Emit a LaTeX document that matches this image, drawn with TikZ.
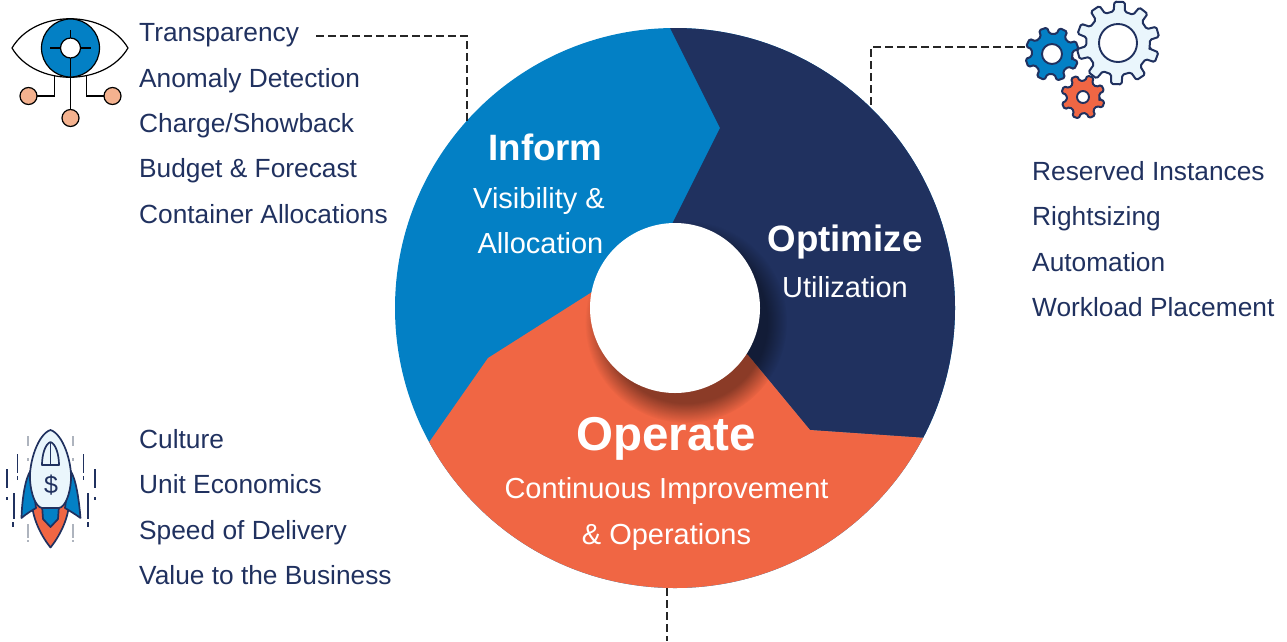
\documentclass[tikz,border=0pt]{standalone}
\usepackage{fontspec}
\setmainfont{Liberation Sans}
\usetikzlibrary{fadings}
\definecolor{brandblue}{HTML}{0380C5}
\definecolor{brandnavy}{HTML}{20315F}
\definecolor{brandorange}{HTML}{F06644}
\definecolor{peach}{HTML}{F4B28F}
\definecolor{palefill}{HTML}{EAF6FC}
\definecolor{dashgray}{HTML}{AEB4BE}
\newcommand{\fsize}[1]{\fontsize{#1}{#1}\selectfont}
\newcommand{\gearshape}[9]{%
 % cx cy router rinner teeth rot hole fill holefill
 \draw[gearline,fill=#8] ({#1+#4*cos(#6)},{#2+#4*sin(#6)})
 \foreach \gi in {1,...,#5}{
   -- ({#1+#4*cos(#6+(\gi-1+.06)*360/#5)},{#2+#4*sin(#6+(\gi-1+.06)*360/#5)})
   -- ({#1+#3*cos(#6+(\gi-1+.14)*360/#5)},{#2+#3*sin(#6+(\gi-1+.14)*360/#5)})
   -- ({#1+#3*cos(#6+(\gi-1+.54)*360/#5)},{#2+#3*sin(#6+(\gi-1+.54)*360/#5)})
   -- ({#1+#4*cos(#6+(\gi-1+.62)*360/#5)},{#2+#4*sin(#6+(\gi-1+.62)*360/#5)})
 } -- cycle;
 \draw[brandnavy,line width=1.9pt,fill=#9] (#1,#2) circle[radius=#7pt];
}
\tikzset{
  x=1pt,y=-1pt,
  item/.style={anchor=base west,inner sep=0pt,text=brandnavy,font=\fsize{26.3}},
  disctitle/.style={anchor=base,inner sep=0pt,text=white,font=\fsize{36.7}\bfseries},
  discsub/.style={anchor=base,inner sep=0pt,text=white,font=\fsize{29}},
  leader/.style={draw=black!85,line width=1.1pt,dash pattern=on 8pt off 4pt},
  gearline/.style={draw=brandnavy,line width=2pt,rounded corners=1.6pt,line join=round},
  eyeline/.style={draw=black,line width=1.2pt},
  rocketline/.style={draw=brandnavy,line width=1.7pt,line join=round},
  tick/.style={draw=brandnavy,line width=2pt},
  graytick/.style={draw=dashgray,line width=1.4pt},
}
\begin{document}
\begin{tikzpicture}
\useasboundingbox (0,0) rectangle (1287,641);
% disc
\begin{scope}
  \clip (675,308) circle[radius=280pt];
  \fill[brandblue] (390,20) rectangle (960,600);
  \fill[brandnavy] (655,-2) -- (720,128) -- (672,224) -- (675,308) -- (748,355) -- (810,430) -- (1000,443) -- (1000,-2) -- cycle;
  \fill[brandorange] (395,491) -- (488,358) -- (592,292) -- (675,308) -- (748,355) -- (810,430) -- (1000,443) -- (1000,620) -- (395,620) -- cycle;
  \fill[black,opacity=.42,path fading=circle with fuzzy edge 20 percent] (686,322) circle[radius=101pt];
\end{scope}
\node[circle,fill=white,minimum size=170pt,inner sep=0pt] (hub) at (675,308) {};
% disc labels
\node[disctitle] (inform) at (545.5,160) {Inform};
\node[discsub] (vis) at (539,208) {Visibility \&};
\node[discsub] (alloc) at (540.5,253) {Allocation};
\node[disctitle] (optimize) at (845,251) {Optimize};
\node[discsub] (util) at (845,297) {Utilization};
\node[disctitle,font=\fsize{47.5}\bfseries] (operate) at (666,450) {Operate};
\node[discsub] (cont) at (666.5,498) {Continuous Improvement};
\node[discsub] (ops) at (666.5,544) {\& Operations};
% lists
\node[item] (t1) at (139,41) {Transparency};
\node[item] (t2) at (139,87) {Anomaly Detection};
\node[item] (t3) at (139,132) {Charge/Showback};
\node[item] (t4) at (139,177) {Budget \& Forecast};
\node[item] (t5) at (139,223) {Container Allocations};
\node[item] (r1) at (1032,180) {Reserved Instances};
\node[item] (r2) at (1032,225) {Rightsizing};
\node[item] (r3) at (1032,271) {Automation};
\node[item] (r4) at (1032,316) {Workload Placement};
\node[item] (b1) at (139,448) {Culture};
\node[item] (b2) at (139,493) {Unit Economics};
\node[item] (b3) at (139,539) {Speed of Delivery};
\node[item] (b4) at (139,584) {Value to the Business};
% leaders
\coordinate (la) at (316,36);
\coordinate (lb) at (467,122);
\coordinate (lc) at (1025,47);
\coordinate (ld) at (871,108);
\coordinate (le) at (667,588);
\coordinate (lf) at (667,641);
\draw[leader] (la) -| (lb);
\draw[leader] (lc) -| (ld);
\draw[leader] (le) -- (lf);
% eye
\draw[eyeline,fill=white] (12,48) .. controls (35,9) and (105,9) .. (128,48) .. controls (105,87) and (35,87) .. (12,48) -- cycle;
\draw[eyeline,fill=brandblue] (70.5,48) circle[radius=29pt];
\draw[eyeline,fill=white] (70.5,48) circle[radius=10pt];
\draw[eyeline] (70.5,30) -- (70.5,38);
\draw[eyeline] (50,48) -- (60.5,48);
\draw[eyeline] (80.5,48) -- (90.5,48);
\draw[eyeline] (70.5,58) -- (70.5,110);
\draw[eyeline] (54.5,76) |- (37,96);
\draw[eyeline] (86.5,76) |- (104,96);
\draw[eyeline,fill=peach] (28.5,96) circle[radius=8.5pt];
\draw[eyeline,fill=peach] (112.5,96) circle[radius=8.5pt];
\draw[eyeline,fill=peach] (70.5,118) circle[radius=8.5pt];
% gears
\gearshape{1118}{43}{41.5}{32}{10}{8}{19}{palefill}{white}
\gearshape{1052}{54}{27}{20.5}{8}{10}{10}{brandblue}{white}
\gearshape{1083}{97}{22}{16.5}{8}{5}{6}{brandorange}{white}
% rocket
\draw[rocketline,fill=brandorange] (32,504) .. controls (33,520) and (42,537) .. (50.5,547.5) .. controls (59,537) and (68,520) .. (69,504) -- cycle;
\draw[rocketline,fill=brandblue] (42,505) -- (43,519) -- (50.5,527) -- (58,519) -- (59,505) -- cycle;
\draw[rocketline,fill=brandblue] (31,470) .. controls (25,478) and (22,500) .. (21.5,518) .. controls (26,514) and (31,511) .. (36,508) -- cycle;
\draw[rocketline,fill=brandblue] (70,470) .. controls (76,478) and (79,500) .. (80.5,518) .. controls (75,514) and (70,511) .. (65,508) -- cycle;
\draw[rocketline,fill=palefill] (50.5,430) .. controls (38,434) and (29,462) .. (30,480) .. controls (31,495) and (36,507) .. (42,508) -- (59,508) .. controls (65,507) and (70,495) .. (71,480) .. controls (72,462) and (63,434) .. (50.5,430) -- cycle;
\draw[rocketline,fill=palefill] (42,465) .. controls (42,455) and (45,444) .. (50.5,442) .. controls (56,444) and (59,455) .. (59,465) -- cycle;
\draw[rocketline] (50.5,442) -- (50.5,465);
\node[inner sep=0pt,text=brandnavy,font=\fsize{25}] (dollar) at (51,485) {\$};
\draw[tick] (6.5,469) -- (6.5,488);
\draw[tick] (6.5,497) -- (6.5,500);
\draw[tick] (14,493) -- (14,519);
\draw[tick] (13,522) -- (13,527);
\draw[tick,line width=1.2pt] (17.5,454) -- (17.5,473);
\draw[tick,line width=1.2pt] (17.5,476) -- (17.5,480);
\draw[tick] (95,469) -- (95,488);
\draw[tick] (95,497) -- (95,500);
\draw[tick] (88,493) -- (88,519);
\draw[tick] (88,522) -- (88,527);
\draw[tick,line width=1.2pt] (83.5,454) -- (83.5,473);
\draw[tick,line width=1.2pt] (83.5,476) -- (83.5,480);
\foreach \tx in {28,73}{
  \draw[graytick] (\tx,436) -- (\tx,446);
  \draw[graytick] (\tx,458) -- (\tx,461);
  \draw[graytick] (\tx,524) -- (\tx,538);
  \draw[graytick] (\tx,540) -- (\tx,542);
}
\end{tikzpicture}
\end{document}
